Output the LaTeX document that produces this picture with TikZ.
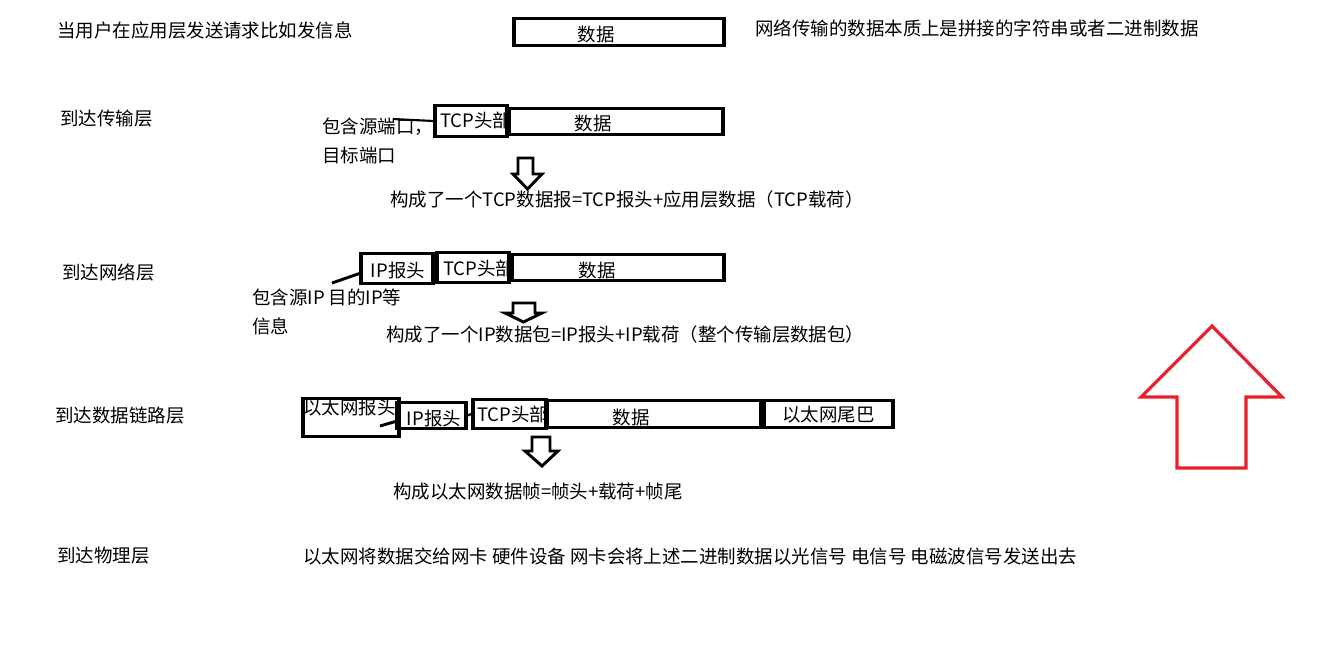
\documentclass[tikz,border=0pt]{standalone}
\usepackage{fontspec}
\setmainfont{Noto Sans CJK SC}
\usepackage{tikz}
\usetikzlibrary{calc,positioning}
\definecolor{uparrowred}{HTML}{E8202A}

\begin{document}
\begin{tikzpicture}[x=0.75pt, y=-0.75pt, every node/.style={font=\fontsize{13.85}{16}\selectfont, inner sep=0pt}]
  \tikzset{
    pkt/.style={draw, line width=2.4pt, minimum width=#1*0.75pt, minimum height=20pt},
    txt/.style={anchor=west},
    lead/.style={line width=1.6pt},
    downarr/.style={draw, line width=2.2pt, line join=miter}
  }
  \useasboundingbox (0,0) rectangle (1334,651);

  % application layer
  \node[txt] (app) at (57,30) {当用户在应用层发送请求比如发信息};
  \node[pkt=210] (d1) at (619,32) {};
  \node (d1t) at (596,34) {数据};
  \node[txt] (note1) at (755,28) {网络传输的数据本质上是拼接的字符串或者二进制数据};

  % transport layer
  \node[txt] (tl) at (60,119) {到达传输层};
  \node[pkt=72, minimum height=23pt] (tcp2) at (471,121) {};
  \node[txt] (tcp2t) at (440,120) {TCP头部};
  \node[pkt=214] (d2) at (616,121.5) {};
  \node (d2t) at (593,123) {数据};
  \node[txt] (src2) at (322,127) {包含源端口，};
  \node[txt] (dst2) at (322,155) {目标端口};
  \coordinate (l2) at (393,119);
  \draw[lead] (l2) -- (tcp2.west);
  \draw[downarr] (518,158) -- (533,158) -- (533,174) -- (542,174) -- (527.5,189)
    -- (513,174) -- (518,174) -- cycle;
  \node[txt] (res2) at (390,199) {构成了一个TCP数据报=TCP报头+应用层数据（TCP载荷）};

  % network layer
  \node[txt] (nl) at (62,272) {到达网络层};
  \node[pkt=72, minimum height=22pt] (ip3) at (397,268.5) {};
  \node (ip3t) at (398,270) {IP报头};
  \node[pkt=72, minimum height=23pt] (tcp3) at (473,267.5) {};
  \node[txt] (tcp3t) at (443,268) {TCP头部};
  \node[pkt=212] (d3) at (618,267.5) {};
  \node (d3t) at (597,270) {数据};
  \draw[lead] (ip3.east) -- (tcp3.west);
  \node[txt] (src3) at (252,297) {包含源IP 目的IP等};
  \node[txt] (info3) at (252,326) {信息};
  \coordinate (l3) at (332,283);
  \draw[lead, line width=2.2pt] (l3) -- ($(ip3.west)+(0,5)$);
  \draw[downarr] (513,303) -- (535,303) -- (535,313) -- (542,313) -- (523.5,322)
    -- (505,313) -- (513,313) -- cycle;
  \node[txt] (res3) at (386,334) {构成了一个IP数据包=IP报头+IP载荷（整个传输层数据包）};

  % data link layer
  \node[txt] (dl) at (55,416) {到达数据链路层};
  \node[pkt=96, minimum height=29pt] (eth4) at (351,417.5) {};
  \node[anchor=north west] (eth4t) at (303,399) {以太网报头};
  \node[pkt=69] (ip4) at (431.5,415.5) {};
  \node (ip4t) at (434,418) {IP报头};
  \node[pkt=73, minimum height=22pt] (tcp4) at (509.5,414) {};
  \node[txt] (tcp4t) at (477,414) {TCP头部};
  \node[pkt=214] (d4) at (654,414) {};
  \node (d4t) at (631,417) {数据};
  \node[pkt=129] (tail4) at (828.5,414) {};
  \node (tail4t) at (828.5,415) {以太网尾巴};
  \draw[lead] (ip4.east) -- (tcp4.west);
  \coordinate (l4) at (380,426);
  \draw[lead, line width=2.2pt] (l4) -- ($(ip4.west)+(0,6)$);
  \draw[downarr] (532,437) -- (550,437) -- (550,451) -- (558,451) -- (542,466)
    -- (525,451) -- (532,451) -- cycle;
  \node[txt] (res4) at (393,492) {构成以太网数据帧=帧头+载荷+帧尾};

  % physical layer
  \node[txt] (pl) at (57,556) {到达物理层};
  \node[txt] (phy) at (303,556) {以太网将数据交给网卡 硬件设备 网卡会将上述二进制数据以光信号 电信号 电磁波信号发送出去};

  % red up arrow
  \draw[uparrowred, line width=2.4pt] (1212,326) -- (1282,397) -- (1246,397) -- (1246,468)
    -- (1177,468) -- (1177,397) -- (1141,397) -- cycle;
\end{tikzpicture}
\end{document}
